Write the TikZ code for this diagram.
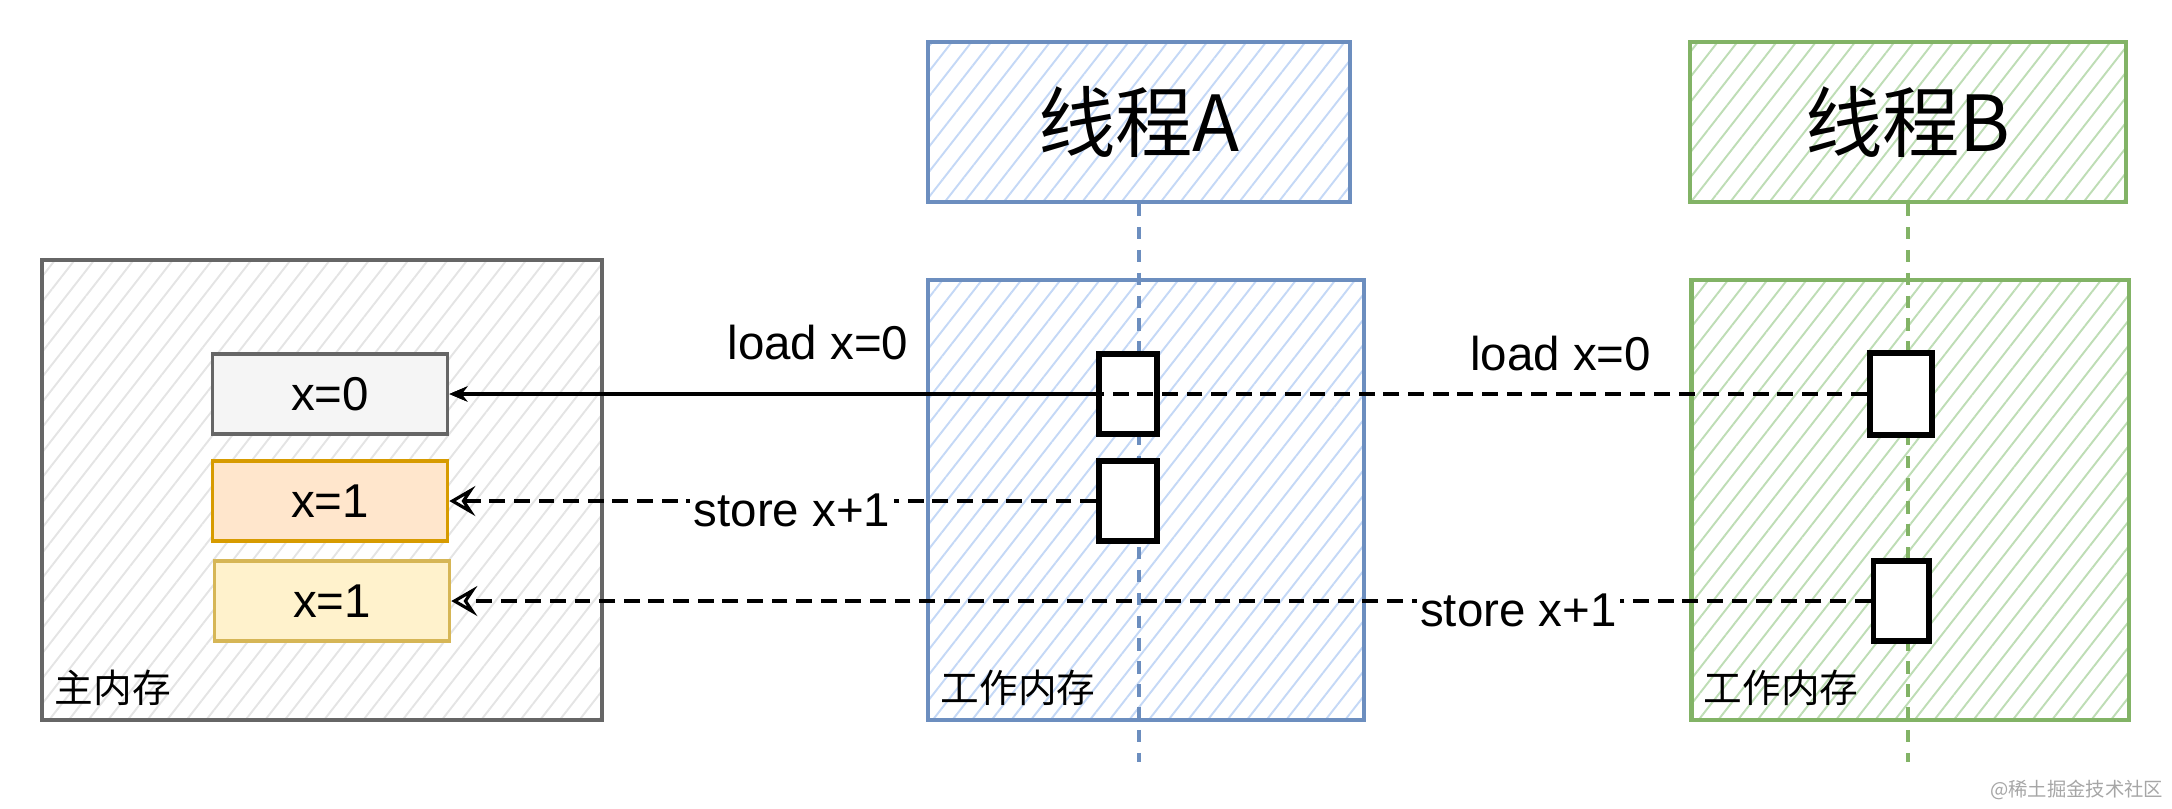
\documentclass[tikz,border=0pt]{standalone}
\usepackage{fontspec}
\setmainfont{Liberation Sans}
\newfontfamily\cjk{Noto Sans CJK SC}
\usetikzlibrary{arrows.meta, positioning, patterns.meta}
\definecolor{cgrey}{HTML}{666666}
\definecolor{cblue}{HTML}{6C8EBF}
\definecolor{cgreen}{HTML}{82B366}
\definecolor{corange}{HTML}{D79B00}
\definecolor{cyellow}{HTML}{D6B656}
\definecolor{fgrey}{HTML}{F5F5F5}
\definecolor{forange}{HTML}{FFE6CC}
\definecolor{fyellow}{HTML}{FFF2CC}
\definecolor{hgrey}{HTML}{E4E4E4}
\definecolor{hblue}{HTML}{C4D8F6}
\definecolor{hgreen}{HTML}{BEDDB5}
\newcommand{\lblfont}{\fontsize{13.5}{16}\selectfont}
\newcommand{\capfont}{\cjk\fontsize{11}{13}\selectfont}
\newcommand{\titlefont}{\cjk\fontsize{22}{26}\selectfont}
\tikzset{
  every picture/.style={line width=1pt},
  box/.style={draw=#1, line width=1.2pt, inner sep=0pt, align=center},
  box/.default=cgrey,
  hatch/.style={pattern={Lines[angle=52, distance=4.4pt, line width=0.55pt]}, pattern color=#1},
  lbl/.style={font=\lblfont, inner sep=1pt},
  memcap/.style={font=\capfont, inner sep=0pt, anchor=west},
}

\begin{document}
\begin{tikzpicture}[x=0.01cm, y=-0.01cm,
    var/.style={box=#1, line width=1pt, minimum width=2.35cm, minimum height=0.8cm, font=\lblfont},
    thread/.style={box=#1, minimum height=1.6cm, font=\titlefont},
    work/.style={box=#1, minimum height=4.39cm},
    act/.style={draw=black, fill=white, line width=1.7pt, minimum width=0.58cm, minimum height=0.8cm, inner sep=0pt},
    life/.style={draw=#1, line width=1.4pt, dash pattern=on 3.5pt off 3pt},
    load/.style={draw=black, line width=0.9pt, -{Stealth[length=1.8mm, width=1.5mm]}},
    store/.style={draw=black, line width=0.9pt, dash pattern=on 4.5pt off 2.5pt, -{Stealth[open, length=2.6mm, width=3mm, inset=1mm]}},
  ]
  \useasboundingbox (0,0) rectangle (2172,808);

  % main memory
  \node[box=cgrey, hatch=hgrey, minimum width=5.6cm, minimum height=4.6cm] (main) at (322,490) {};
  \node[memcap] (maincap) at (53,688) {主内存};
  \node[var=cgrey, fill=fgrey] (x0) at (330,394) {x=0};
  \node[var=corange, fill=forange] (x1a) at (330,501) {x=1};
  \node[var=cyellow, fill=fyellow] (x1b) at (332,601) {x=1};

  % thread A
  \node[thread=cblue, hatch=hblue, minimum width=4.22cm] (thA) at (1139,122) {线程A};
  \node[work=cblue, hatch=hblue, minimum width=4.36cm] (wmA) at (1146,500) {};
  \node[memcap] (capA) at (939,688) {工作内存};
  \coordinate (endA) at (1139,762);
  \draw[life=cblue] (thA) -- (endA);
  \node[act] (actA1) at (1128,394) {};
  \node[act] (actA2) at (1128,501) {};

  % thread B
  \node[thread=cgreen, hatch=hgreen, minimum width=4.36cm] (thB) at (1908,122) {线程B};
  \node[work=cgreen, hatch=hgreen, minimum width=4.37cm] (wmB) at (1910,500) {};
  \node[memcap] (capB) at (1702,688) {工作内存};
  \coordinate (endB) at (1908,762);
  \draw[life=cgreen] (thB) -- (endB);
  \node[act, minimum width=0.62cm, minimum height=0.82cm] (actB1) at (1901,394) {};
  \node[act, minimum width=0.55cm] (actB2) at (1901,601) {};

  % links
  \draw[load] (actA1) -- node[lbl, pos=0.43, above=0.29cm] (ldA) {load x=0} (x0);
  \draw[store, -{Stealth[length=1.8mm, width=1.5mm]}] (actB1) -- node[lbl, pos=0.216, above=0.18cm] (ldB) {load x=0} (x0);
  \draw[store] (actA2) -- node[lbl, fill=white, pos=0.47, yshift=-0.09cm] (stA) {store x+1} (x1a);
  \draw[store] (actB2) -- node[lbl, fill=white, pos=0.248, yshift=-0.09cm] (stB) {store x+1} (x1b);

  \node[font=\cjk\fontsize{5.5}{6}\selectfont, text=gray!70, anchor=east, inner sep=0pt] (mark) at (2165,790) {@稀土掘金技术社区};
\end{tikzpicture}
\end{document}
